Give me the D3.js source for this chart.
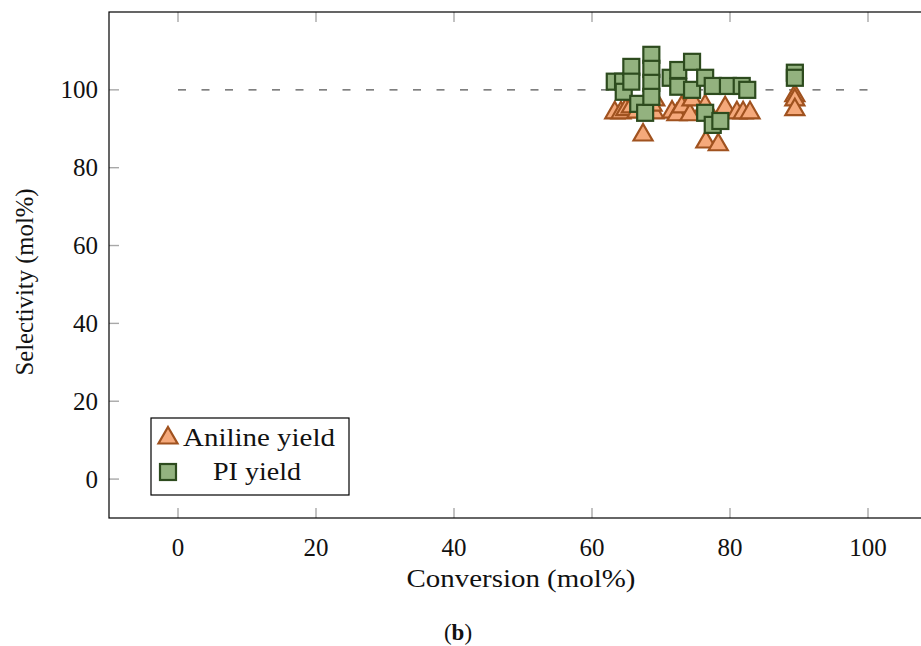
<!DOCTYPE html>
<html>
<head>
<meta charset="utf-8">
<script src="https://cdn.jsdelivr.net/npm/d3@7"></script>
<style>
  html, body { margin: 0; padding: 0; background: #fff; }
  svg { display: block; }
  svg text { font-family: "Times New Roman", "Liberation Serif", Times, serif; fill: #111; }
</style>
</head>
<body>
<svg id="chart" width="921" height="646"></svg>
<script>
// Conversion vs. selectivity for the catalytic runs
const anilineConversion = [63.3, 64.2, 64.9, 65.7, 66.5, 67.4, 69.0, 69.1, 68.7, 71.6, 72.3, 73.0, 74.2, 74.5, 76.4, 79.3, 76.5, 78.3, 81.0, 81.9, 82.9, 89.4, 89.4, 89.4];
const anilineSelectivity = [94.1, 94.1, 94.9, 95.6, 94.3, 88.4, 94.1, 97.4, 96.1, 94.3, 93.6, 95.6, 93.6, 97.4, 95.9, 95.4, 86.6, 85.9, 94.1, 94.1, 94.1, 98.5, 97.4, 94.9];

const piConversion = [63.3, 64.5, 64.6, 65.7, 65.7, 66.7, 67.7, 68.6, 68.6, 68.6, 68.6, 71.4, 72.5, 72.5, 74.5, 74.5, 76.4, 77.5, 79.7, 81.7, 82.5, 76.4, 77.5, 78.6, 89.4, 89.4];
const piSelectivity = [102.1, 102.1, 99.5, 105.9, 102.1, 96.4, 94.1, 109.0, 105.4, 101.8, 98.2, 103.1, 105.1, 100.8, 107.2, 100.0, 103.1, 101.0, 101.0, 101.0, 100.0, 94.1, 91.0, 92.0, 104.4, 103.1];

const xTicks = [0, 20, 40, 60, 80, 100];
const yTicks = [0, 20, 40, 60, 80, 100];
const xDomain = [-10, 110];
const yDomain = [-10, 120];
const referenceLevel = 100;

const seriesNames = ["Aniline yield", "PI yield"];

const svg = d3.select("#chart");

const x = d3.scaleLinear().domain(xDomain).range([109, 937]);
const y = d3.scaleLinear().domain(yDomain).range([518, 12]);

const tickColor = "#a8a8a8";
const fontSize = 25;

// Dashed reference line at 100 %
svg.append("line")
  .attr("x1", x(0)).attr("x2", x(100))
  .attr("y1", y(referenceLevel)).attr("y2", y(referenceLevel))
  .attr("stroke", "#555").attr("stroke-width", 1.3)
  .attr("stroke-dasharray", "8 15.5");

// Inner ticks on all four sides
const tickLen = 10;
const gTicks = svg.append("g").attr("stroke", tickColor).attr("stroke-width", 1.4);
xTicks.forEach(v => {
  gTicks.append("line").attr("x1", x(v)).attr("x2", x(v)).attr("y1", y(yDomain[0])).attr("y2", y(yDomain[0]) - tickLen);
  gTicks.append("line").attr("x1", x(v)).attr("x2", x(v)).attr("y1", y(yDomain[1])).attr("y2", y(yDomain[1]) + tickLen);
});
yTicks.forEach(v => {
  gTicks.append("line").attr("x1", x(xDomain[0])).attr("x2", x(xDomain[0]) + tickLen).attr("y1", y(v)).attr("y2", y(v));
  gTicks.append("line").attr("x1", x(xDomain[1])).attr("x2", x(xDomain[1]) - tickLen).attr("y1", y(v)).attr("y2", y(v));
});

// Tick labels
svg.append("g").selectAll("text").data(xTicks).join("text")
  .attr("x", d => x(d)).attr("y", y(yDomain[0]) + 38)
  .attr("text-anchor", "middle").attr("font-size", fontSize)
  .text(d => d);
svg.append("g").selectAll("text").data(yTicks).join("text")
  .attr("x", x(xDomain[0]) - 11).attr("y", d => y(d))
  .attr("dy", "0.34em")
  .attr("text-anchor", "end").attr("font-size", fontSize)
  .text(d => d);

// Markers
const triR = 11;
const trianglePath = `M0,${-triR}L${triR * 0.866},${triR / 2}L${-triR * 0.866},${triR / 2}Z`;
const sq = 16;
const triFill = "#f5a97b", triStroke = "#a0521f";
const sqFill = "#93b27f", sqStroke = "#2d4b1e";

const aniline = anilineConversion.map((c, i) => ({ c, s: anilineSelectivity[i] }));
const pi = piConversion.map((c, i) => ({ c, s: piSelectivity[i] }));

svg.append("g").selectAll("path").data(aniline).join("path")
  .attr("d", trianglePath)
  .attr("transform", d => `translate(${x(d.c)},${y(d.s)})`)
  .attr("fill", triFill).attr("stroke", triStroke).attr("stroke-width", 2.2)
  .attr("stroke-linejoin", "miter");

svg.append("g").selectAll("rect").data(pi).join("rect")
  .attr("x", d => x(d.c) - sq / 2).attr("y", d => y(d.s) - sq / 2)
  .attr("width", sq).attr("height", sq)
  .attr("fill", sqFill).attr("stroke", sqStroke).attr("stroke-width", 2.2);

// Axis frame
svg.append("rect")
  .attr("x", x(xDomain[0])).attr("y", y(yDomain[1]))
  .attr("width", x(xDomain[1]) - x(xDomain[0]))
  .attr("height", y(yDomain[0]) - y(yDomain[1]))
  .attr("fill", "none").attr("stroke", "#000").attr("stroke-width", 1.2);

// Axis titles
svg.append("text")
  .attr("x", 521).attr("y", 587)
  .attr("text-anchor", "middle").attr("font-size", fontSize)
  .attr("textLength", 229).attr("lengthAdjust", "spacingAndGlyphs")
  .text("Conversion (mol%)");
svg.append("text")
  .attr("transform", "translate(33,282) rotate(-90)")
  .attr("text-anchor", "middle").attr("font-size", fontSize)
  .attr("textLength", 187).attr("lengthAdjust", "spacingAndGlyphs")
  .text("Selectivity (mol%)");

// Panel label
const panel = svg.append("text")
  .attr("x", 458).attr("y", 640)
  .attr("text-anchor", "middle").attr("font-size", 23);
panel.append("tspan").text("(");
panel.append("tspan").attr("font-weight", "bold").text("b");
panel.append("tspan").text(")");

// Legend
const legend = svg.append("g");
legend.append("rect")
  .attr("x", 151).attr("y", 418).attr("width", 198).attr("height", 77)
  .attr("fill", "#fff").attr("stroke", "#000").attr("stroke-width", 1.2);
legend.append("path")
  .attr("d", trianglePath)
  .attr("transform", "translate(168,438)")
  .attr("fill", triFill).attr("stroke", triStroke).attr("stroke-width", 2.2);
legend.append("rect")
  .attr("x", 168 - sq / 2).attr("y", 472 - sq / 2).attr("width", sq).attr("height", sq)
  .attr("fill", sqFill).attr("stroke", sqStroke).attr("stroke-width", 2.2);
legend.append("text")
  .attr("x", 259).attr("y", 437).attr("dy", "0.34em")
  .attr("text-anchor", "middle").attr("font-size", fontSize)
  .attr("textLength", 152).attr("lengthAdjust", "spacingAndGlyphs")
  .text(seriesNames[0]);
legend.append("text")
  .attr("x", 257).attr("y", 471).attr("dy", "0.34em")
  .attr("text-anchor", "middle").attr("font-size", fontSize)
  .attr("textLength", 88).attr("lengthAdjust", "spacingAndGlyphs")
  .text(seriesNames[1]);
</script>
</body>
</html>
